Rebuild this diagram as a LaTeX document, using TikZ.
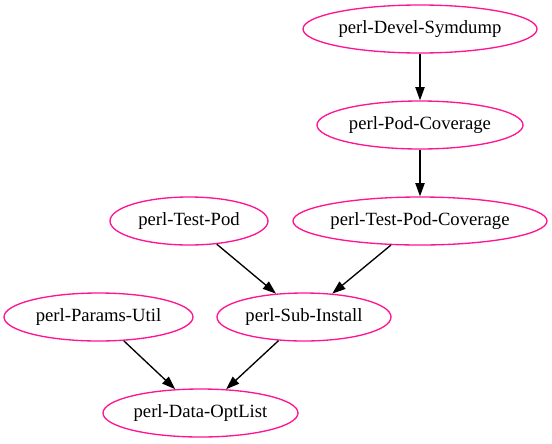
\documentclass[tikz,border=0pt]{standalone}
\usepackage{fontspec}
\setmainfont{Liberation Serif}
\usetikzlibrary{shapes.geometric,arrows.meta}
\definecolor{deeppink}{HTML}{FF1493}
\tikzset{
  pkg/.style={ellipse, draw=deeppink, line width=1pt, inner sep=0pt,
    minimum height=36pt, font=\fontsize{14pt}{16pt}\selectfont, text=black},
  dep/.style={draw=black, line width=1pt, -{Triangle[length=10pt,width=7pt]}}
}
\begin{document}
\begin{tikzpicture}[x=0.75pt,y=-0.75pt]
\useasboundingbox (0,0) rectangle (552,443);
\node[pkg, minimum width=175.5pt] (ds)  at (420,29)    {perl-Devel-Symdump};
\node[pkg, minimum width=154.5pt] (pc)  at (420,125)   {perl-Pod-Coverage};
\node[pkg, minimum width=190.5pt] (tpc) at (420,221)   {perl-Test-Pod-Coverage};
\node[pkg, minimum width=118.5pt] (tp)  at (189,221)   {perl-Test-Pod};
\node[pkg, minimum width=141.75pt] (pu) at (98.5,317)  {perl-Params-Util};
\node[pkg, minimum width=130.5pt] (si)  at (304,317)   {perl-Sub-Install};
\node[pkg, minimum width=146.25pt] (do) at (200.5,413) {perl-Data-OptList};
\draw[dep] (ds) -- (pc);
\draw[dep] (pc) -- (tpc);
\draw[dep] (tp) -- (si);
\draw[dep] (tpc) -- (si);
\draw[dep] (pu) -- (do);
\draw[dep] (si) -- (do);
\end{tikzpicture}
\end{document}
